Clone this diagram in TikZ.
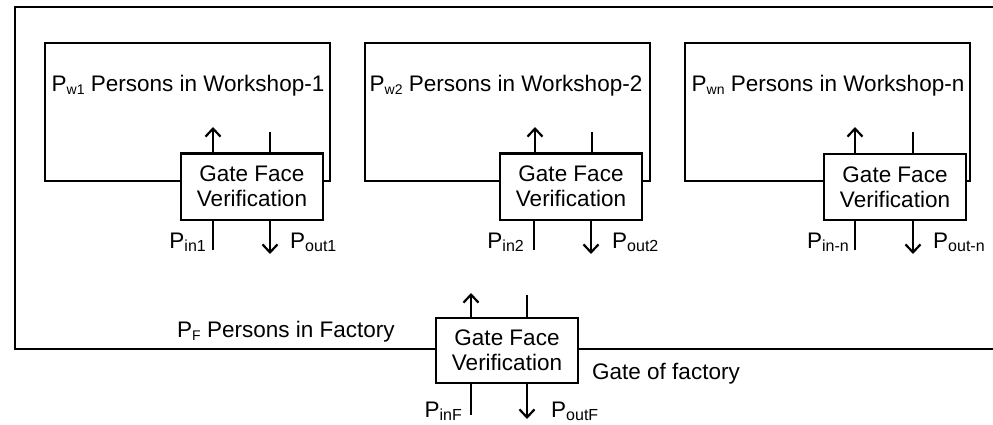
\documentclass[tikz,border=0pt]{standalone}
\usepackage{fontspec}
\setmainfont{Liberation Sans}
\usetikzlibrary{arrows.meta}
\newcommand\lsub[1]{\raisebox{-3pt}{\fontsize{16}{16}\selectfont #1}}
\newcommand\wsub[1]{\raisebox{-3pt}{\fontsize{14}{14}\selectfont #1}}
\begin{document}
\begin{tikzpicture}[x=1pt,y=-1pt,
  txt/.style={font=\fontsize{22.5}{25}\selectfont, inner sep=0pt},
  wsbox/.style={draw, line width=2pt, minimum width=285pt, minimum height=138pt, inner sep=0pt},
  gatebox/.style={draw, line width=2pt, fill=white, minimum width=142pt, minimum height=66pt,
    align=center, font=\fontsize{22.5}{25}\selectfont, inner sep=0pt},
  flow/.style={line width=2.2pt},
  flowarrow/.style={line width=2.2pt, -{Straight Barb[length=8pt,width=15pt]}},
]
\useasboundingbox (0,0) rectangle (993,425);

% factory outline
\coordinate (ftr) at (993,7);
\coordinate (ftl) at (15,7);
\coordinate (fbl) at (15,349);
\coordinate (fbr) at (993,349);
\draw[line width=2.8pt] (ftr) -- (ftl) -- (fbl) -- (fbr);

% workshops
\node[wsbox] (w1) at (187.5,112) {};
\node[wsbox] (w2) at (507.5,112) {};
\node[wsbox] (wn) at (827.5,112) {};
\node[txt, anchor=base] (w1t) at (188,92) {P\wsub{w1} Persons in Workshop-1};
\node[txt, anchor=base] (w2t) at (506,92) {P\wsub{w2} Persons in Workshop-2};
\node[txt, anchor=base] (wnt) at (828,92) {P\wsub{wn} Persons in Workshop-n};

% gates
\node[gatebox] (g1) at (252,186.5) {Gate Face\\Verification};
\node[gatebox] (g2) at (571,186.5) {Gate Face\\Verification};
\node[gatebox] (gn) at (895,187) {Gate Face\\Verification};
\node[gatebox, minimum height=65pt] (gF) at (507,350.5) {Gate Face\\Verification};

% gate 1 flows
\coordinate (u1) at (213,127);
\coordinate (v1) at (270,132);
\coordinate (i1) at (213,250);
\coordinate (o1) at (270,254);
\draw[flowarrow] (g1.north -| u1) -- (u1);
\draw[flow] (v1) -- (g1.north -| v1);
\draw[flow] (i1) -- (g1.south -| i1);
\draw[flowarrow] (g1.south -| o1) -- (o1);
\node[txt, anchor=base east] (pin1) at (206,248) {P\lsub{in1}};
\node[txt, anchor=base west] (pout1) at (290,248) {P\lsub{out1}};

% gate 2 flows
\coordinate (u2) at (535,127);
\coordinate (v2) at (592,132);
\coordinate (i2) at (534,250);
\coordinate (o2) at (591,254);
\draw[flowarrow] (g2.north -| u2) -- (u2);
\draw[flow] (v2) -- (g2.north -| v2);
\draw[flow] (i2) -- (g2.south -| i2);
\draw[flowarrow] (g2.south -| o2) -- (o2);
\node[txt, anchor=base east] (pin2) at (524,248) {P\lsub{in2}};
\node[txt, anchor=base west] (pout2) at (612,248) {P\lsub{out2}};

% gate n flows
\coordinate (un) at (855,127);
\coordinate (vn) at (913,132);
\coordinate (in) at (855,250);
\coordinate (on) at (913,254);
\draw[flowarrow] (gn.north -| un) -- (un);
\draw[flow] (vn) -- (gn.north -| vn);
\draw[flow] (in) -- (gn.south -| in);
\draw[flowarrow] (gn.south -| on) -- (on);
\node[txt, anchor=base east] (pinn) at (849,248) {P\lsub{in-n}};
\node[txt, anchor=base west] (poutn) at (933,248) {P\lsub{out-n}};

% factory gate flows
\coordinate (uF) at (471,293);
\coordinate (vF) at (527,295);
\coordinate (iF) at (471,415);
\coordinate (oF) at (527,419);
\draw[flowarrow] (gF.north -| uF) -- (uF);
\draw[flow] (vF) -- (gF.north -| vF);
\draw[flow] (iF) -- (gF.south -| iF);
\draw[flowarrow] (gF.south -| oF) -- (oF);
\node[txt, anchor=base east] (pinF) at (462,417) {P\lsub{inF}};
\node[txt, anchor=base west] (poutF) at (551,417) {P\lsub{outF}};

% other labels
\node[txt, anchor=base west] (gof) at (592,379) {Gate of factory};
\node[txt, anchor=base west] (pf) at (177,337) {P\wsub{F} Persons in Factory};
\end{tikzpicture}
\end{document}
